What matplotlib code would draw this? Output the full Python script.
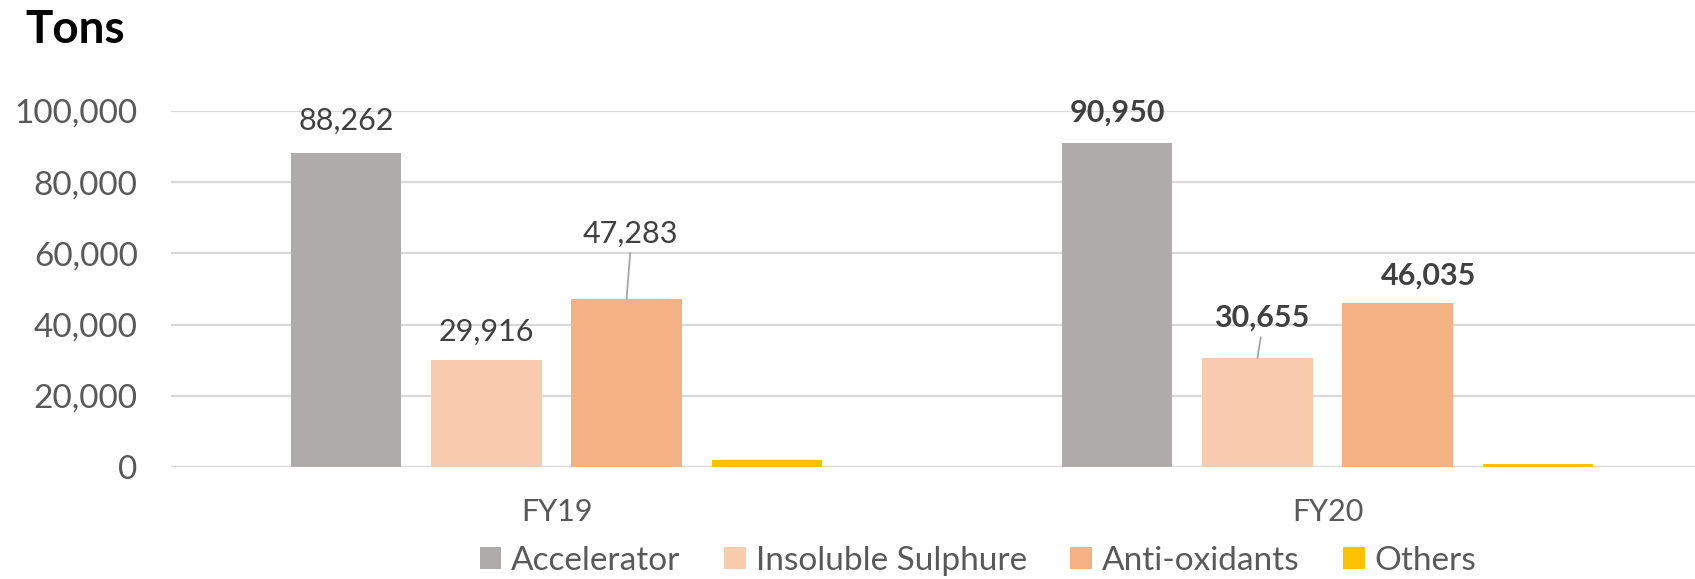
import numpy as np
import matplotlib
matplotlib.use('Agg')
import matplotlib.pyplot as plt
from matplotlib.ticker import FuncFormatter

plt.rcParams['font.family'] = ['Lato', 'DejaVu Sans']

# DATA
years = ['FY19', 'FY20']
series = ['Accelerator', 'Insoluble Sulphure', 'Anti-oxidants', 'Others']
accelerator = [88262, 90950]
insoluble_sulphure = [29916, 30655]
anti_oxidants = [47283, 46035]
others = [1900, 900]
y_ticks = [0, 20000, 40000, 60000, 80000, 100000]

colors = ['#AFABAB', '#F8CBAD', '#F4B183', '#FFC000']

# label offsets in points (dx, dy) from bar top, and whether a leader line is drawn
# (None = no label)
label_style = {
    (0, 0): (0, 23, False), (0, 1): (0, 21, False), (0, 2): (3, 47, True), (0, 3): None,
    (1, 0): (0, 22, False), (1, 1): (3, 29, True), (1, 2): (22, 20, False), (1, 3): None,
}

W, H = 1695, 579
fig = plt.figure(figsize=(W / 100, H / 100), dpi=100)
# plot area runs a bit past the right edge, like the source image
ax = fig.add_axes([171 / W, (H - 467) / H, 1542 / W, (467 - 111) / H])

x = np.arange(len(years))
step = 0.1816
width = 0.1427
all_vals = [accelerator, insoluble_sulphure, anti_oxidants, others]

for i, (name, vals) in enumerate(zip(series, all_vals)):
    pos = x + (i - 1.5) * step
    ax.bar(pos, vals, width, color=colors[i], label=name, zorder=3)
    for j, v in enumerate(vals):
        st = label_style[(j, i)]
        if st is None:
            continue
        dx, dy, leader = st
        bold = (j == 1)
        kw = {}
        if leader:
            kw['arrowprops'] = dict(arrowstyle='-', color='#A6A6A6', lw=1.3,
                                    shrinkA=2, shrinkB=0, relpos=(0.5, 0))
        ax.annotate('{:,}'.format(v), xy=(pos[j], v), xytext=(dx, dy),
                    textcoords='offset points', ha='center', va='center',
                    fontsize=22, color='#404040',
                    fontweight='bold' if bold else 'normal', **kw)

ax.set_xlim(-0.5, 1.5)
ax.set_ylim(0, 100000)
ax.set_yticks(y_ticks)
ax.yaxis.set_major_formatter(FuncFormatter(lambda v, p: '{:,}'.format(int(v))))
ax.set_xticks(x)
ax.set_xticklabels(years)
ax.tick_params(axis='y', length=0, pad=24, labelsize=24, labelcolor='#595959')
ax.tick_params(axis='x', length=0, pad=22, labelsize=22, labelcolor='#595959')
ax.grid(axis='y', color='#D9D9D9', lw=1.6, zorder=0)
for s in ax.spines.values():
    s.set_visible(False)

fig.text(25 / W, 1 - 43 / H, 'Tons', fontsize=33, fontweight='bold',
         color='black', va='baseline')

fig.legend(loc='center', bbox_to_anchor=(978 / W, 1 - 561 / H), ncol=4,
           frameon=False, fontsize=24, labelcolor='#595959',
           handlelength=0.65, handleheight=0.65, handletextpad=0.3,
           columnspacing=1.3)

fig.savefig('out.png', dpi=100)
